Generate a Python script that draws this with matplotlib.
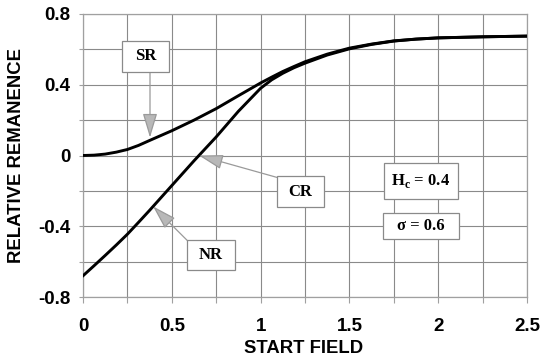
import matplotlib
matplotlib.use("Agg")
import matplotlib.pyplot as plt
from matplotlib.patches import Rectangle, FancyArrowPatch
from matplotlib.ticker import MultipleLocator, FixedLocator
from matplotlib.font_manager import FontProperties

# ---- data ----
field = [0.0, 0.0625, 0.125, 0.1875, 0.25, 0.3125, 0.375, 0.5, 0.625, 0.75,
         0.875, 1.0, 1.0625, 1.125, 1.1875, 1.25, 1.375, 1.5, 1.625, 1.75,
         1.875, 2.0, 2.25, 2.5]
sr = [0.0, 0.002, 0.008, 0.019, 0.034, 0.057, 0.085, 0.14, 0.2, 0.265,
      0.338, 0.41, 0.443, 0.475, 0.503, 0.53, 0.573, 0.607, 0.63, 0.648,
      0.658, 0.665, 0.671, 0.675]
cr = [-0.68, -0.623, -0.565, -0.506, -0.445, -0.378, -0.31, -0.17, -0.03, 0.105,
      0.25, 0.38, 0.428, 0.465, 0.496, 0.522, 0.568, 0.603, 0.628, 0.647,
      0.658, 0.665, 0.671, 0.675]

x_ticks = [0, 0.5, 1, 1.5, 2, 2.5]
x_tick_labels = ["0", "0.5", "1", "1.5", "2", "2.5"]
y_ticks = [-0.8, -0.4, 0, 0.4, 0.8]
y_tick_labels = ["-0.8", "-0.4", "0", "0.4", "0.8"]

plt.rcParams["mathtext.fontset"] = "custom"
plt.rcParams["mathtext.rm"] = "Liberation Serif:bold"

fig = plt.figure(figsize=(5.46, 3.60), dpi=100)
ax = fig.add_axes([83/546, 1-297/360, 444/546, 283/360])

ax.plot(field, sr, color="black", lw=2.1, solid_joinstyle="round", zorder=3)
ax.plot(field, cr, color="black", lw=2.1, solid_joinstyle="round", zorder=3)

ax.set_xlim(0, 2.5)
ax.set_ylim(-0.8, 0.8)
ax.xaxis.set_major_locator(FixedLocator(x_ticks))
ax.set_xticklabels(x_tick_labels)
ax.yaxis.set_major_locator(FixedLocator(y_ticks))
ax.set_yticklabels(y_tick_labels)
ax.xaxis.set_minor_locator(MultipleLocator(0.25))
ax.yaxis.set_minor_locator(MultipleLocator(0.2))
ax.grid(True, which="both", color="#8a8a8a", lw=0.8, zorder=0)

for s in ax.spines.values():
    s.set_color("#a0a0a0")
    s.set_linewidth(0.9)

tick_fp = FontProperties(family="Liberation Sans", weight="bold", size=13.5)
for lab in ax.get_xticklabels() + ax.get_yticklabels():
    lab.set_fontproperties(tick_fp)
ax.tick_params(axis="x", which="both", direction="out", length=4.5, width=0.8,
               color="#a0a0a0", pad=10.5)
ax.tick_params(axis="y", which="both", direction="out", length=3, width=0.8,
               color="#a0a0a0", pad=6)

ax.set_xlabel("START FIELD", family="Liberation Sans", weight="bold", size=13.3)
ax.set_ylabel("RELATIVE REMANENCE", family="Liberation Sans", weight="bold", size=13.3)
ax.xaxis.set_label_coords(0.497, -0.152)
ax.yaxis.set_label_coords(-0.13, 0.5)

# ---- annotation boxes (pixel -> data helpers) ----
def px2d(px, py):
    return ((px - 83) / 177.6, (156 - py) / 177.5)

def box(x0, y0, x1, y1, text, size=12):
    a = px2d(x0, y1)
    b = px2d(x1, y0)
    ax.add_patch(Rectangle(a, b[0]-a[0], b[1]-a[1], facecolor="white",
                           edgecolor="#8a8a8a", lw=0.9, zorder=5))
    c = px2d((x0+x1)/2, (y0+y1)/2)
    ax.text(c[0], c[1], text, ha="center", va="center", zorder=6,
            family="Liberation Serif", weight="bold", size=size)

def arrow(start, tip):
    p = FancyArrowPatch(px2d(*start), px2d(*tip),
                        arrowstyle="-|>,head_length=1.5,head_width=0.45",
                        mutation_scale=10, facecolor="#b8b8b8",
                        edgecolor="#9a9a9a", lw=0.9, zorder=4,
                        shrinkA=0, shrinkB=0)
    ax.add_patch(p)

arrow((150, 72), (150, 138))
arrow((277, 178), (199, 156))
arrow((188, 242), (153, 207))

box(122, 41, 169, 72, "SR")
box(277, 177, 324, 208, "CR")
box(187, 241, 235, 271, "NR")
box(384, 164, 458, 200, "H$_\\mathrm{c}$ = 0.4")
box(383, 214, 459, 240, "σ = 0.6")

fig.savefig("out.png", dpi=100)
